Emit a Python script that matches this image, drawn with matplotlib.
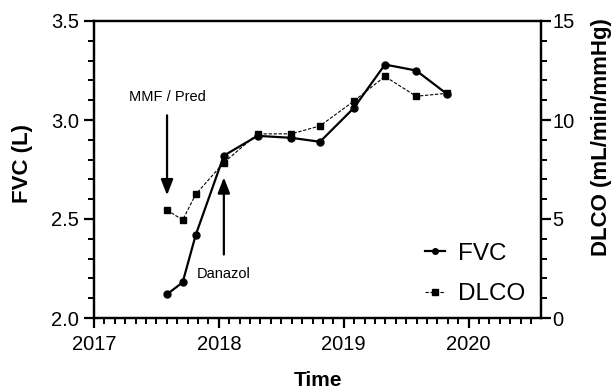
import numpy as np
import matplotlib
matplotlib.use("Agg")
from matplotlib import pyplot as plt
from matplotlib.ticker import MultipleLocator, FuncFormatter, FormatStrFormatter

# visit dates (decimal years) and measurements
time = [2017.585, 2017.71, 2017.815, 2018.04, 2018.31, 2018.58,
        2018.81, 2019.08, 2019.33, 2019.58, 2019.83]
fvc = [2.12, 2.18, 2.42, 2.82, 2.92, 2.91, 2.89, 3.06, 3.28, 3.25, 3.13]
dlco = [5.45, 4.95, 6.25, 7.85, 9.3, 9.3, 9.7, 10.95, 12.2, 11.2, 11.35]

plt.rcParams['font.family'] = ['Liberation Sans', 'DejaVu Sans']

fig = plt.figure(figsize=(6.14, 3.9), dpi=100)
ax = fig.add_axes([94 / 614, 1 - 318 / 390, 447 / 614, 297 / 390])
ax2 = ax.twinx()

ax.plot(time, fvc, color='black', lw=1.6, marker='o', ms=5, label='FVC', zorder=3)
ax2.plot(time, dlco, color='black', lw=0.8, ls=(0, (3, 1.5)), marker='s', ms=5,
         label='DLCO', zorder=3)

ax.set_xlim(2017, 2020.58)
ax.set_ylim(2.0, 3.5)
ax2.set_ylim(0, 15)

ax.xaxis.set_major_locator(MultipleLocator(1))
ax.xaxis.set_minor_locator(MultipleLocator(1 / 12))
ax.yaxis.set_major_locator(MultipleLocator(0.5))
ax.yaxis.set_minor_locator(MultipleLocator(0.1))
ax2.yaxis.set_major_locator(MultipleLocator(5))
ax2.yaxis.set_minor_locator(MultipleLocator(1))
ax.xaxis.set_major_formatter(FuncFormatter(lambda v, p: f"{int(round(v))}"))
ax.yaxis.set_major_formatter(FormatStrFormatter('%.1f'))

for a in (ax, ax2):
    for s in a.spines.values():
        s.set_linewidth(1.6)
    a.tick_params(which='major', length=7, width=1.6, labelsize=14.5, direction='out')
    a.tick_params(which='minor', length=4.5, width=1.4, direction='out')
ax.tick_params(axis='x', which='major', pad=5)
ax.tick_params(axis='y', which='major', pad=4)
ax2.tick_params(axis='y', which='major', pad=1)

ax.set_xlabel('Time', fontsize=15, fontweight='bold')
ax.set_ylabel('FVC (L)', fontsize=16, fontweight='bold')
ax2.set_ylabel('DLCO (mL/min/mmHg)', fontsize=16, fontweight='bold')
ax.xaxis.set_label_coords(0.5, -0.18)
ax.yaxis.set_label_coords(-0.137, 0.52)
ax2.yaxis.set_label_coords(1.112, 0.61)

# treatment annotations
arrow = dict(arrowstyle='-|>,head_length=0.9,head_width=0.35',
             color='black', lw=1.6, shrinkB=0)
ax.annotate('MMF / Pred', xy=(2017.585, 2.62), xytext=(2017.585, 3.115),
            ha='center', va='center', fontsize=10.5,
            arrowprops=dict(arrow, shrinkA=6))
ax.annotate('Danazol', xy=(2018.04, 2.71), xytext=(2018.04, 2.222),
            ha='center', va='center', fontsize=10.5,
            arrowprops=dict(arrow, shrinkA=7))

h1, l1 = ax.get_legend_handles_labels()
h2, l2 = ax2.get_legend_handles_labels()
leg = ax2.legend(h1 + h2, l1 + l2, loc='center left', frameon=False, fontsize=17.5,
                 handlelength=0.85, handletextpad=0.5, labelspacing=0.75,
                 markerscale=0.8, borderpad=0, borderaxespad=0,
                 bbox_to_anchor=(0.74, 0.148))

fig.savefig('out.png', dpi=100)
